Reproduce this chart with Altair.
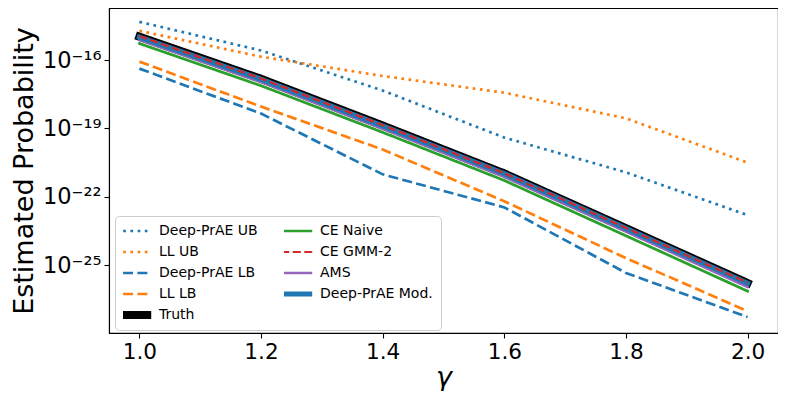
import altair as alt
import pandas as pd

gamma = [1.0, 1.2, 1.4, 1.6, 1.8, 2.0]
deep_prae_ub = [4.7e-15, 2.6e-16, 4.6e-18, 4.0e-20, 1.2e-21, 1.6e-23]
ll_ub = [1.9e-15, 1.4e-16, 2.0e-17, 3.7e-18, 2.8e-19, 3.2e-21]
deep_prae_lb = [4.2e-17, 4.5e-19, 9.8e-22, 3.5e-23, 4.7e-26, 5.5e-28]
ll_lb = [8.5e-17, 9.1e-19, 1.2e-20, 6.5e-23, 2.1e-25, 1.0e-27]
truth = [1.05e-15, 1.5e-17, 1.35e-19, 1.07e-21, 4.3e-24, 1.7e-26]
ce_naive = [5.3e-16, 7.5e-18, 6.8e-20, 5.3e-22, 2.0e-24, 7.5e-27]
ce_gmm2 = [1.1e-15, 1.55e-17, 1.4e-19, 1.1e-21, 4.4e-24, 1.75e-26]
ams = [7.6e-16, 1.1e-17, 9.8e-20, 7.7e-22, 3.1e-24, 1.15e-26]
deep_prae_mod = [1.0e-15, 1.45e-17, 1.3e-19, 1.05e-21, 4.2e-24, 1.65e-26]

x_ticks = [1.0, 1.2, 1.4, 1.6, 1.8, 2.0]
y_tick_values = [1e-16, 1e-19, 1e-22, 1e-25]
y_tick_exps = [-16, -19, -22, -25]
y_tick_labels = ["10⁻¹⁶", "10⁻¹⁹", "10⁻²²", "10⁻²⁵"]

series = {
    "Deep-PrAE UB": deep_prae_ub,
    "LL UB": ll_ub,
    "Deep-PrAE LB": deep_prae_lb,
    "LL LB": ll_lb,
    "Truth": truth,
    "CE Naive": ce_naive,
    "CE GMM-2": ce_gmm2,
    "AMS": ams,
    "Deep-PrAE Mod.": deep_prae_mod,
}

rows = []
for name, vals in series.items():
    for g, v in zip(gamma, vals):
        rows.append({"gamma": g, "value": v, "series": name})
df = pd.DataFrame(rows)

legend_order = ["Deep-PrAE UB", "LL UB", "Deep-PrAE LB", "LL LB", "Truth",
                "CE Naive", "CE GMM-2", "AMS", "Deep-PrAE Mod."]
colors = ["#1f77b4", "#ff7f0e", "#1f77b4", "#ff7f0e", "#000000",
          "#2ca02c", "#d62728", "#9467bd", "#1f77b4"]
dashes = [[2.7, 4.5], [2.7, 4.5], [10, 4.3], [10, 4.3], [1, 0],
          [1, 0], [8, 3.5], [1, 0], [1, 0]]

label_expr = " : ".join(
    f"round(log(datum.value)/LN10) == {e} ? '{l}'" for e, l in zip(y_tick_exps, y_tick_labels)
) + " : ''"

FONT = "DejaVu Sans"

legend = alt.Legend(
    title=None,
    orient="none",
    legendX=6,
    legendY=208,
    columns=2,
    symbolType="stroke",
    symbolSize=1800,
    clipHeight=14,
    symbolStrokeWidth=alt.ExprRef(
        "datum.value == 'Truth' ? 8 : datum.value == 'Deep-PrAE Mod.' ? 5 : datum.value == 'CE GMM-2' ? 2.2 : 2.7"
    ),
    labelFont=FONT,
    labelFontSize=14,
    labelColor="black",
    labelOffset=22,
    columnPadding=26,
    rowPadding=7,
    padding=8,
    fillColor="white",
    strokeColor="#cccccc",
    cornerRadius=4,
)

base = alt.Chart(df).encode(
    x=alt.X(
        "gamma:Q",
        scale=alt.Scale(domain=[0.95, 2.05], nice=False, zero=False),
        axis=alt.Axis(values=x_ticks, format=".1f", title="γ", titleFontStyle="italic",
                      labelFontSize=21.6, titleFontSize=27, labelPadding=3, titlePadding=2,
                      tickSize=5, grid=False),
    ),
    y=alt.Y(
        "value:Q",
        scale=alt.Scale(type="log", domain=[1.1e-28, 1.9e-14], nice=False),
        axis=alt.Axis(values=y_tick_values, labelExpr=label_expr, title="Estimated Probability",
                      labelFontSize=22.5, titleFontSize=27, labelPadding=3, titlePadding=4,
                      tickSize=5, grid=False),
    ),
    color=alt.Color("series:N", scale=alt.Scale(domain=legend_order, range=colors), legend=legend),
    strokeDash=alt.StrokeDash("series:N", scale=alt.Scale(domain=legend_order, range=dashes), legend=legend),
)

def layer(names, width, cap="butt"):
    return base.transform_filter(
        alt.FieldOneOfPredicate(field="series", oneOf=names)
    ).mark_line(strokeWidth=width, strokeCap=cap, clip=True)

chart = alt.layer(
    layer(["Deep-PrAE UB", "LL UB", "Deep-PrAE LB", "LL LB"], 2.7),
    layer(["Truth"], 8, "square"),
    layer(["CE Naive"], 2.7, "square"),
    layer(["AMS"], 2.7, "square"),
    layer(["Deep-PrAE Mod."], 5, "square"),
    layer(["CE GMM-2"], 2.2),
).properties(
    width=669,
    height=325,
    padding={"left": 2, "top": 0, "right": 0, "bottom": 0},
).configure_view(
    stroke="black", strokeWidth=1.1
).configure_axis(
    labelFont=FONT, titleFont=FONT, labelColor="black", titleColor="black",
    domainColor="black", tickColor="black", titleFontWeight="normal", domainWidth=1.1, tickWidth=1.1,
)

chart.save("out.html", embed_options={"renderer": "svg", "actions": False})
